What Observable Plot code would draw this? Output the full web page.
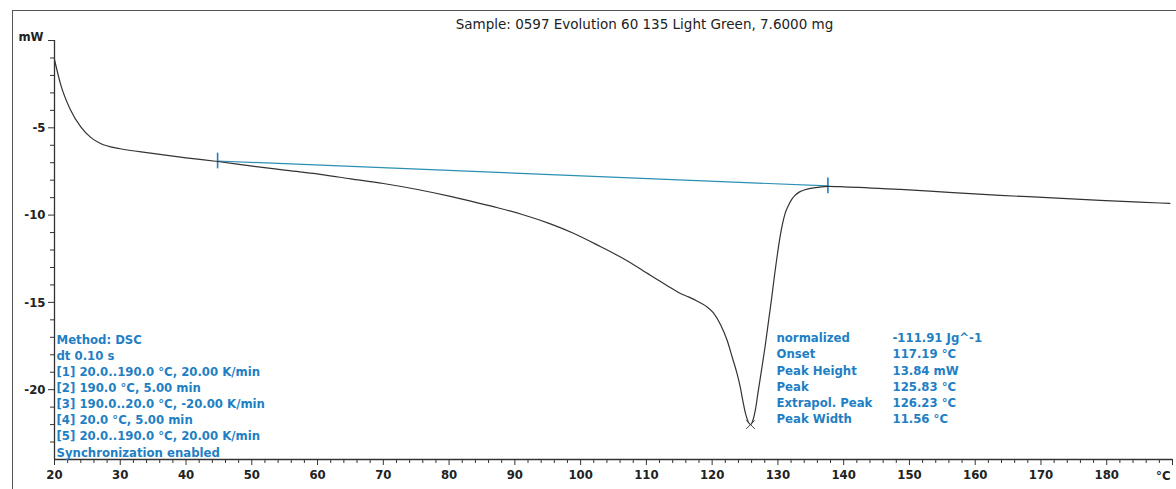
<!DOCTYPE html>
<html>
<head>
<meta charset="utf-8">
<script src="https://cdn.jsdelivr.net/npm/d3@7"></script>
<script src="https://cdn.jsdelivr.net/npm/@observablehq/plot@0.6"></script>
<style>
  html, body { margin: 0; padding: 0; background: #fff; }
  #wrap { position: relative; width: 1176px; height: 489px; overflow: hidden; }
  #border { position: absolute; left: 12px; top: 10px; right: -4px; bottom: -4px;
            border-left: 1.5px solid #555; border-top: 1.5px solid #555; pointer-events: none; }
</style>
</head>
<body>
<div id="wrap"><div id="border"></div></div>
<script>
const title = "Sample: 0597 Evolution 60 135 Light Green, 7.6000 mg";

// DSC curve (temperature °C, heat flow mW)
const temps = [20, 21, 22.4, 24, 25.5, 27, 30, 34.6, 40, 44.8, 49.8, 55, 60.4, 65, 70, 75, 80.2, 85, 87.8, 91, 95.4, 99, 103, 107, 110.6, 113, 115.1, 116.5, 117.7, 119, 120.2, 121.3, 122.3, 123.1, 123.8, 124.3, 124.7, 125.1, 125.5, 125.83, 126.2, 126.6, 127.0, 127.5, 128.1, 128.6, 129.0, 129.5, 129.9, 130.3, 130.7, 131.1, 131.6, 132.1, 132.6, 133.3, 134.1, 135, 136.1, 137.6, 140, 148.6, 156, 163.8, 171, 179, 185, 189.6];
const heatFlow = [-1.1, -2.6, -3.95, -4.95, -5.55, -5.9, -6.2, -6.45, -6.72, -6.93, -7.18, -7.42, -7.67, -7.92, -8.19, -8.52, -8.93, -9.36, -9.62, -9.95, -10.5, -11.05, -11.8, -12.6, -13.45, -14.0, -14.48, -14.7, -14.92, -15.2, -15.6, -16.3, -17.2, -18.2, -19.1, -19.9, -20.7, -21.4, -21.85, -22.0, -21.75, -21.1, -20.1, -18.9, -17.4, -16.0, -14.9, -13.4, -12.3, -11.3, -10.5, -9.9, -9.45, -9.1, -8.87, -8.67, -8.55, -8.47, -8.41, -8.36, -8.38, -8.53, -8.7, -8.87, -9.0, -9.16, -9.26, -9.33];

// integration baseline
const baseT = [44.8, 137.6];
const baseMW = [-6.9, -8.33];

// peak
const peakT = [125.83];
const peakMW = [-22.0];

// axis ticks
const xMajor = [20, 30, 40, 50, 60, 70, 80, 90, 100, 110, 120, 130, 140, 150, 160, 170, 180, 190];
const xUnit = "°C";
const yMajor = [0, -5, -10, -15, -20];
const yUnit = "mW";

// method text
const methodLines = ["Method: DSC", "dt 0.10 s", "[1] 20.0..190.0 °C, 20.00 K/min", "[2] 190.0 °C, 5.00 min", "[3] 190.0..20.0 °C, -20.00 K/min", "[4] 20.0 °C, 5.00 min", "[5] 20.0..190.0 °C, 20.00 K/min", "Synchronization enabled"];
const resultLabels = ["normalized", "Onset", "Peak Height", "Peak", "Extrapol. Peak", "Peak Width"];
const resultValues = ["-111.91 Jg^-1", "117.19 °C", "13.84 mW", "125.83 °C", "126.23 °C", "11.56 °C"];

const curve = temps.map((t, i) => ({t, mw: heatFlow[i]}));
const base = baseT.map((t, i) => ({t, mw: baseMW[i]}));
const peak = peakT.map((t, i) => ({t, mw: peakMW[i]}));

const xMin = 20, xMax = 190, yMin = -24, yMax = 1.72;
const xMinor = d3.range(xMin, xMax + 1, 2).filter(v => !xMajor.includes(v));
const yMinor = d3.range(-23, 1, 1).filter(v => !yMajor.includes(v));

const FONT = "'DejaVu Sans Condensed', 'DejaVu Sans', sans-serif";
const BLUE = "#1f7fc4";

const chart = Plot.plot({
  width: 1176,
  height: 489,
  marginLeft: 54,
  marginRight: 4,
  marginTop: 10,
  marginBottom: 30,
  x: {domain: [xMin, xMax], axis: null},
  y: {domain: [yMin, yMax], axis: null},
  style: {fontFamily: FONT, background: "transparent", overflow: "visible"},
  marks: [
    // axis lines
    Plot.ruleY([yMin], {stroke: "#333", strokeWidth: 1.3}),
    Plot.ruleX([xMin], {y1: 0, y2: yMin, stroke: "#333", strokeWidth: 1.3}),
    // x ticks
    Plot.axisX(xMajor, {anchor: "bottom", label: null, tickSize: 6, tickPadding: 4, tickFormat: d => d === xMax ? "" : d, fontSize: 13, fontWeight: "bold", fill: "#222", stroke: "#333"}),
    Plot.axisX(xMinor, {anchor: "bottom", label: null, tickSize: 4, text: null, stroke: "#333"}),
    Plot.text([xUnit], {x: xMax, y: yMin, text: d => d, textAnchor: "end", lineAnchor: "top", dy: 11, dx: -2, fontSize: 13, fontWeight: "bold", fill: "#222"}),
    // y ticks
    Plot.axisY(yMajor, {anchor: "left", label: null, tickSize: 6, tickPadding: 3, tickFormat: d => d === 0 ? "" : d, fontSize: 13, fontWeight: "bold", fill: "#222", stroke: "#333"}),
    Plot.axisY(yMinor, {anchor: "left", label: null, tickSize: 4, text: null, stroke: "#333"}),
    Plot.text([yUnit], {x: xMin, y: 0, text: d => d, textAnchor: "end", dx: -11, dy: -4, fontSize: 13, fontWeight: "bold", fill: "#222"}),
    // baseline
    Plot.line(base, {x: "t", y: "mw", stroke: "#2a8fb4", strokeWidth: 1.2}),
    Plot.ruleX(base, {x: "t", y1: d => d.mw + 0.45, y2: d => d.mw - 0.45, stroke: BLUE, strokeWidth: 1.6}),
    // curve
    Plot.line(curve, {x: "t", y: "mw", curve: "monotone-x", stroke: "#333", strokeWidth: 1.2}),
    Plot.dot(peak, {x: "t", y: "mw", symbol: "times", r: 4, stroke: "#444", strokeWidth: 1}),
    // title
    Plot.text([title], {frameAnchor: "top", text: d => d, dy: 9, dx: 31, fontSize: 13.5, fill: "#222", fontFamily: "'DejaVu Sans', sans-serif"}),
    // method info
    Plot.text([methodLines.join("\n")], {frameAnchor: "bottom-left", text: d => d, lineAnchor: "bottom", dx: 2, dy: -3, lineHeight: 1.24, fontSize: 13, fontWeight: "bold", fill: BLUE, textAnchor: "start"}),
    // results
    Plot.text([resultLabels.join("\n")], {frameAnchor: "top-left", text: d => d, lineAnchor: "top", dx: 722, dy: 320, lineHeight: 1.25, fontSize: 13, fontWeight: "bold", fill: BLUE, textAnchor: "start"}),
    Plot.text([resultValues.join("\n")], {frameAnchor: "top-left", text: d => d, lineAnchor: "top", dx: 838, dy: 320, lineHeight: 1.25, fontSize: 13, fontWeight: "bold", fill: BLUE, textAnchor: "start"})
  ]
});
document.getElementById("wrap").prepend(chart);
</script>
</body>
</html>
